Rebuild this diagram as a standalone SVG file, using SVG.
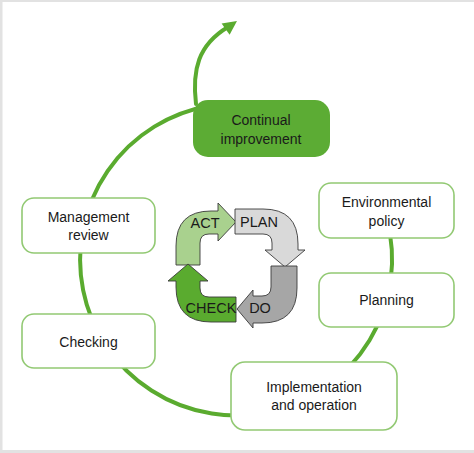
<svg xmlns="http://www.w3.org/2000/svg" width="474" height="453" viewBox="0 0 474 453">
<style>
.box{fill:#fff;stroke:#92c973;stroke-width:1.6}
.lbl{font-family:"Liberation Sans",Arial,sans-serif;font-size:14px;fill:#1a1a1a;text-anchor:middle}
.pd{stroke:#3a3a3a;stroke-width:0.9;stroke-linejoin:miter}
.pdt{font-family:"Liberation Sans",Arial,sans-serif;font-size:14.5px;fill:#1a1a1a;text-anchor:middle}
.ring{fill:none;stroke:#5aab2f;stroke-width:4;stroke-linecap:round}
</style>
<rect x="0" y="0" width="474" height="453" fill="#fff"/>
<rect x="0" y="0" width="474" height="2" fill="#e2e2e2"/>
<rect x="0" y="0" width="2.5" height="453" fill="#e2e2e2"/>
<rect x="0" y="450" width="474" height="3" fill="#e2e2e2"/>
<g id="connectors">
<path class="ring" d="M 210 105.7 A 156 156 0 1 0 387 220"/>
<path class="ring" d="M 196 104 C 192 70, 198 45, 228 27"/>
<polygon points="237,21 229.6,34.8 221.6,23.4" fill="#5aab2f"/>
</g>
<g id="pdca">
<path class="pd" fill="#a9d18e" d="M176,265 L176,246 Q176,211 211,211 L218,211 L218,203 L236,222 L218,241 L218,234 L209,234 Q200,234 200,243 L200,265 Z"/>
<path class="pd" fill="#d9d9d9" d="M235,209 L263,209 Q298,209 298,244 L298,250 L305,250 L285,267 L265,250 L272,250 L272,243 Q272,234 263,234 L235,234 Z"/>
<path class="pd" fill="#a6a6a6" d="M271,266 L297,266 L297,288 Q297,323 262,323 L253,323 L253,328 L237,309 L253,290 L253,296 L262,296 Q271,296 271,287 Z"/>
<path class="pd" fill="#5aab2f" d="M236,297 L236,322 L211,322 Q176,322 176,287 L176,281 L168,281 L188,264 L208,281 L200,281 L200,288 Q200,297 209,297 Z"/>
<text class="pdt" x="205" y="228">ACT</text>
<text class="pdt" x="259" y="227">PLAN</text>
<text class="pdt" x="260" y="313">DO</text>
<text class="pdt" x="211" y="313">CHECK</text>
</g>
<g id="continual">
<rect x="193" y="100" width="137" height="57" rx="15" fill="#5cac34"/>
<text class="lbl" x="261" y="125">Continual</text>
<text class="lbl" x="261" y="144">improvement</text>
</g>
<g id="management">
<rect class="box" x="22" y="198" width="133" height="55" rx="12"/>
<text class="lbl" x="88.5" y="222">Management</text>
<text class="lbl" x="88.5" y="240">review</text>
</g>
<g id="checking">
<rect class="box" x="22" y="314" width="133" height="54" rx="12"/>
<text class="lbl" x="88.5" y="347">Checking</text>
</g>
<g id="policy">
<rect class="box" x="319" y="183" width="135" height="55" rx="12"/>
<text class="lbl" x="386.5" y="207">Environmental</text>
<text class="lbl" x="386.5" y="226">policy</text>
</g>
<g id="planning">
<rect class="box" x="319" y="273" width="135" height="54" rx="12"/>
<text class="lbl" x="386.5" y="305">Planning</text>
</g>
<g id="implementation">
<rect class="box" x="231" y="362" width="166" height="68" rx="14"/>
<text class="lbl" x="314" y="392">Implementation</text>
<text class="lbl" x="314" y="410">and operation</text>
</g>
</svg>
